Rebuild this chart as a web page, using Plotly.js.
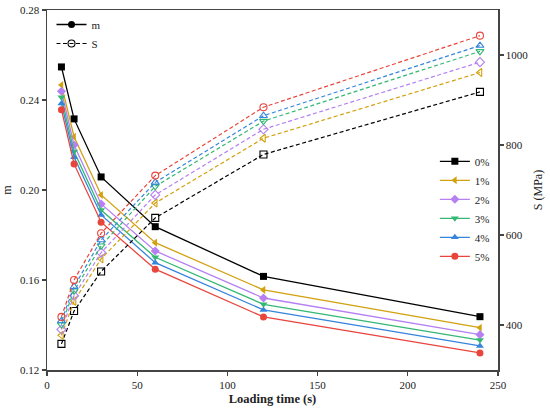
<!DOCTYPE html>
<html><head><meta charset="utf-8">
<script src="https://cdn.plot.ly/plotly-3.0.1.min.js"></script>
<style>html,body{margin:0;padding:0;background:#fff}#c{width:550px;height:414px}</style>
</head><body><div id="c"></div>
<script>
const loadingTime = [8, 15, 30, 60, 120, 240];
const seriesNames = ['0%', '1%', '2%', '3%', '4%', '5%'];
const m0 = [0.2547, 0.2316, 0.2058, 0.1837, 0.1616, 0.1437];
const m1 = [0.2467, 0.2237, 0.1978, 0.1766, 0.1556, 0.1388];
const m2 = [0.2439, 0.2200, 0.1938, 0.1729, 0.1520, 0.1357];
const m3 = [0.2412, 0.2171, 0.1911, 0.1701, 0.1492, 0.1333];
const m4 = [0.2385, 0.2146, 0.1889, 0.1677, 0.1467, 0.1307];
const m5 = [0.2357, 0.2116, 0.1857, 0.1648, 0.1436, 0.1276];
const S0 = [358, 431, 519, 638, 779, 918];
const S1 = [377, 453, 547, 671, 815, 961];
const S2 = [390, 465, 561, 689, 835, 984];
const S3 = [401, 476, 576, 708, 853, 1008];
const S4 = [409, 485, 589, 717, 865, 1021];
const S5 = [418, 500, 604, 732, 884, 1043];

const mData = [m0, m1, m2, m3, m4, m5];
const SData = [S0, S1, S2, S3, S4, S5];
const colors = ['#000000', '#d2a10e', '#b680f2', '#35b874', '#3585dd', '#e8463c'];
const symbols = ['square', 'triangle-left', 'diamond', 'triangle-down', 'triangle-up', 'circle'];
const FONT = 'Liberation Serif, Times New Roman, serif';

const traces = [];
for (let i = 0; i < 6; i++) {
  traces.push({
    x: loadingTime, y: SData[i], yaxis: 'y2', type: 'scatter', mode: 'lines+markers',
    line: {color: colors[i], width: 1.2, dash: '4px,2.5px'},
    marker: {symbol: symbols[i] + '-open', size: 7, color: colors[i], line: {width: 1.1, color: colors[i]}},
    showlegend: false, cliponaxis: false
  });
}
for (let i = 0; i < 6; i++) {
  traces.push({
    x: loadingTime, y: mData[i], yaxis: 'y', type: 'scatter', mode: 'lines+markers',
    name: seriesNames[i], legend: 'legend2',
    line: {color: colors[i], width: 1.3},
    marker: {symbol: symbols[i], size: 7, color: colors[i]},
    cliponaxis: false
  });
}
traces.push({x: [null], y: [null], type: 'scatter', mode: 'lines+markers', name: 'm', legend: 'legend',
  line: {color: '#000', width: 1.3}, marker: {symbol: 'circle', size: 7, color: '#000'}});
traces.push({x: [null], y: [null], type: 'scatter', mode: 'lines+markers', name: 'S', legend: 'legend',
  line: {color: '#000', width: 1.2, dash: '4px,2.5px'}, marker: {symbol: 'circle-open', size: 7, color: '#000', line: {width: 1.1}}});

const axisCommon = {
  showgrid: false, zeroline: false, showline: true, linecolor: '#444', linewidth: 1.5,
  ticks: 'outside', ticklen: 4, tickwidth: 1.2, tickcolor: '#444',
  tickfont: {family: FONT, size: 11, color: '#222'}
};

const layout = {
  width: 550, height: 414,
  margin: {l: 47, r: 52, t: 10, b: 44},
  paper_bgcolor: '#fff', plot_bgcolor: '#fff',
  font: {family: FONT, size: 11, color: '#222'},
  xaxis: Object.assign({}, axisCommon, {
    range: [0, 250], tickvals: [0, 50, 100, 150, 200, 250], mirror: true,
    title: {text: '<b>Loading time (s)</b>', font: {family: FONT, size: 12.5, color: '#222'}, standoff: 4}
  }),
  yaxis: Object.assign({}, axisCommon, {
    range: [0.12, 0.28], tickvals: [0.12, 0.16, 0.20, 0.24, 0.28], ticktext: ['0.12', '0.16', '0.20', '0.24', '0.28'],
    title: {text: 'm', font: {family: FONT, size: 12, color: '#222'}, standoff: 6}
  }),
  yaxis2: Object.assign({}, axisCommon, {
    overlaying: 'y', side: 'right', range: [300, 1100], tickvals: [400, 600, 800, 1000],
    title: {text: 'S (MPa)', font: {family: FONT, size: 12, color: '#222'}, standoff: 6}
  }),
  legend: {x: 0.01, y: 1.0, xanchor: 'left', yanchor: 'top', bgcolor: 'rgba(0,0,0,0)',
    font: {family: FONT, size: 11, color: '#222'}, tracegroupgap: 0, itemwidth: 30},
  legend2: {x: 0.86, y: 0.62, xanchor: 'left', yanchor: 'top', bgcolor: 'rgba(0,0,0,0)',
    font: {family: FONT, size: 11, color: '#222'}, tracegroupgap: 0, itemwidth: 30}
};

Plotly.newPlot('c', traces, layout, {displayModeBar: false, staticPlot: true});
</script>
</body></html>
